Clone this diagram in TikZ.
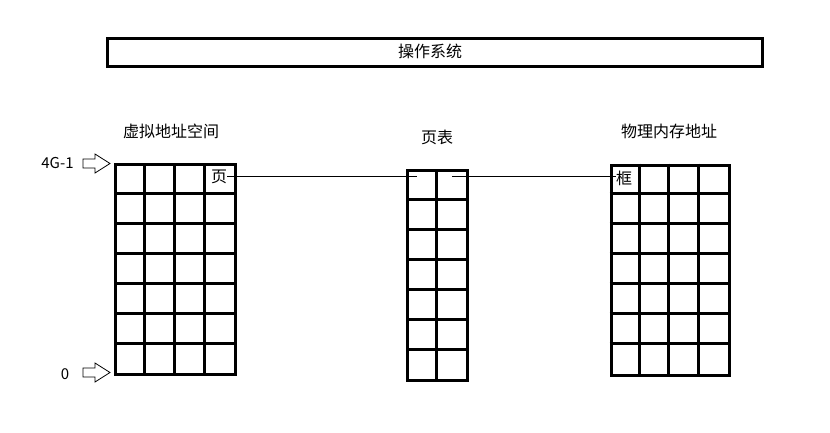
\documentclass[tikz,border=0pt]{standalone}
\usepackage{fontspec}
\setmainfont{Noto Sans CJK SC}
\begin{document}
\begin{tikzpicture}[x=1pt,y=-1pt,
  gridbox/.style={draw, line width=3pt, inner sep=0pt, anchor=north west},
  gridline/.style={line width=3pt},
  lbl/.style={font=\fontsize{16}{19}\selectfont, inner sep=0pt},
  numlbl/.style={font=\fontsize{15}{18}\selectfont, inner sep=0pt},
  link/.style={line width=0.8pt},
  barrow/.style={draw, line width=0.8pt, fill=white},
  blockarrow/.pic={\draw[barrow] (0,-4.5) -- (12,-4.5) -- (12,-9.5) -- (27,0) -- (12,9.5) -- (12,4.5) -- (0,4.5) -- cycle;}]
\useasboundingbox (0,0) rectangle (830,432);
% operating system bar
\node[draw, line width=3pt, minimum width=655pt, minimum height=28pt, anchor=north west, inner sep=0pt] (os) at (106,37) {};
\node[lbl] (oslabel) at (430,51) {操作系统};
% virtual address space grid
\node[gridbox, minimum width=120pt, minimum height=210pt] (vgrid) at (114,163) {};
\foreach \i in {1,2,3} \draw[gridline] ([xshift=30*\i pt]vgrid.north west) -- ([xshift=30*\i pt]vgrid.south west);
\foreach \j in {1,...,6} \draw[gridline] ([yshift=-30*\j pt]vgrid.north west) -- ([yshift=-30*\j pt]vgrid.north east);
% page table
\node[gridbox, minimum width=60pt, minimum height=210pt] (ptab) at (406,169) {};
\draw[gridline] ([xshift=30pt]ptab.north west) -- ([xshift=30pt]ptab.south west);
\foreach \j in {1,...,6} \draw[gridline] ([yshift=-30*\j pt]ptab.north west) -- ([yshift=-30*\j pt]ptab.north east);
% physical memory grid
\node[gridbox, minimum width=118pt, minimum height=210pt] (pgrid) at (609.5,163.5) {};
\foreach \i in {1,2,3} \draw[gridline] ([xshift=29.5*\i pt]pgrid.north west) -- ([xshift=29.5*\i pt]pgrid.south west);
\foreach \j in {1,...,6} \draw[gridline] ([yshift=-30*\j pt]pgrid.north west) -- ([yshift=-30*\j pt]pgrid.north east);
% labels
\node[lbl] (vlabel) at (171,131) {虚拟地址空间};
\node[lbl] (tlabel) at (437,137) {页表};
\node[lbl] (plabel) at (669,131) {物理内存地址};
\node[numlbl] (top) at (57.5,163) {4G-1};
\node[numlbl] (zero) at (65,374) {0};
% arrows
\pic (atop) at (83,163.5) {blockarrow};
\pic (azero) at (83,372.5) {blockarrow};
% page / frame
\node[lbl] (page) at (219,177) {页};
\node[lbl] (frame) at (624,178) {框};
\coordinate (pl) at (417,176);
\coordinate (pr) at (452,176);
\draw[link] (pl -| page.east) -- (pl);
\draw[link] (pr) -- (pr -| frame.west);
\end{tikzpicture}
\end{document}
